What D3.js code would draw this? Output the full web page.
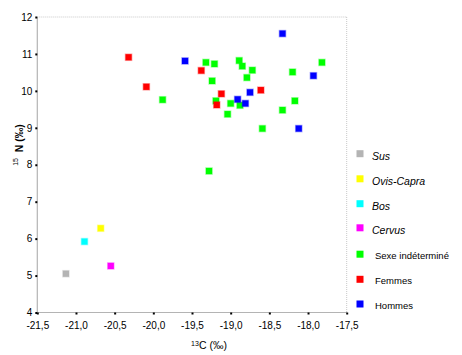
<!DOCTYPE html>
<html>
<head>
<meta charset="utf-8">
<script src="https://cdn.jsdelivr.net/npm/d3@7"></script>
<style>
  body { margin: 0; background: #fff; }
  svg { display: block; font-family: "Liberation Sans", Arial, sans-serif; }
</style>
</head>
<body>
<svg id="chart" width="462" height="355"></svg>
<script>
// ---- Data (δ13C, δ15N) ----
const categories = ["Sus", "Ovis-Capra", "Bos", "Cervus", "Sexe indéterminé", "Femmes", "Hommes"];
const italicCats = [true, true, true, true, false, false, false];
const colors = ["#b4b4b4", "#ffff00", "#00ffff", "#ff00ff", "#00ff00", "#ff0000", "#0000ff"];

const susC = [-21.13], susN = [5.05];
const ovisC = [-20.68], ovisN = [6.28];
const bosC = [-20.89], bosN = [5.92];
const cervusC = [-20.55], cervusN = [5.26];
const indetC = [-19.88, -19.32, -19.21, -19.24, -18.89, -18.85, -18.72, -18.79, -18.20, -17.82, -18.17, -18.33, -18.59, -19.19, -19.00, -18.88, -19.04, -19.28];
const indetN = [9.76, 10.77, 10.73, 10.27, 10.82, 10.67, 10.56, 10.36, 10.51, 10.77, 9.73, 9.48, 8.98, 9.73, 9.66, 9.61, 9.37, 7.83];
const femmesC = [-19.38, -19.12, -19.18, -18.61, -20.32, -20.09];
const femmesN = [10.55, 9.92, 9.62, 10.02, 10.91, 10.11];
const hommesC = [-19.59, -18.33, -17.93, -18.75, -18.91, -18.81, -18.12];
const hommesN = [10.81, 11.55, 10.41, 9.96, 9.77, 9.66, 8.98];

const xTicks = [-21.5, -21.0, -20.5, -20.0, -19.5, -19.0, -18.5, -18.0, -17.5];
const yTicks = [4, 5, 6, 7, 8, 9, 10, 11, 12];

const seriesC = [susC, ovisC, bosC, cervusC, indetC, femmesC, hommesC];
const seriesN = [susN, ovisN, bosN, cervusN, indetN, femmesN, hommesN];

// ---- Layout ----
const svg = d3.select("#chart");
const L = 37.3, R = 346.7, T = 17, B = 312.5;
const x = d3.scaleLinear().domain([-21.5, -17.5]).range([L, R]);
const y = d3.scaleLinear().domain([4, 12]).range([B, T]);

// frame: top & right dotted
svg.append("line").attr("x1", L).attr("x2", R).attr("y1", T).attr("y2", T)
  .attr("stroke", "#c8c8c8").attr("stroke-dasharray", "1,1");
svg.append("line").attr("x1", R).attr("x2", R).attr("y1", T).attr("y2", B)
  .attr("stroke", "#c8c8c8").attr("stroke-dasharray", "1,1");
// axis lines
svg.append("line").attr("x1", L).attr("x2", L).attr("y1", T).attr("y2", B)
  .attr("stroke", "#b4b4b4").attr("stroke-width", 1.2);
svg.append("line").attr("x1", L).attr("x2", R).attr("y1", B).attr("y2", B)
  .attr("stroke", "#b4b4b4").attr("stroke-width", 1.2);

const fmt = d => d3.format(".1f")(d).replace(".", ",").replace("−", "-");

const xAxis = svg.append("g").attr("transform", `translate(0,${B})`)
  .call(d3.axisBottom(x).tickValues(xTicks).tickFormat(fmt).tickSize(2).tickPadding(7));
const yAxis = svg.append("g").attr("transform", `translate(${L},0)`)
  .call(d3.axisLeft(y).tickValues(yTicks).tickFormat(d3.format("d")).tickSize(2).tickPadding(3));
[xAxis, yAxis].forEach(g => {
  g.select(".domain").remove();
  g.selectAll(".tick line").attr("stroke", "#000").attr("stroke-width", 2);
  g.selectAll(".tick text").attr("fill", "#000").style("font-size", "10px")
    .style("font-family", "'Liberation Sans', Arial, sans-serif");
});

// axis titles
const xt = svg.append("text").attr("x", 209).attr("y", 349).attr("text-anchor", "middle")
  .style("font-size", "10.5px").attr("fill", "#000");
xt.append("tspan").text("13").style("font-size", "7px").attr("dy", "-3");
xt.append("tspan").text("C (‰)").attr("dy", "3");

const yt = svg.append("text").attr("transform", "translate(23,145) rotate(-90)")
  .attr("text-anchor", "middle").style("font-size", "10.5px").attr("fill", "#000");
yt.append("tspan").text("15").style("font-size", "7px").attr("dy", "-5");
yt.append("tspan").text("\u00a0\u00a0N (‰)").attr("dy", "5").style("font-weight", "bold");

// points
const sz = 6.2;
const plot = svg.append("g");
seriesC.forEach((cs, i) => {
  const pts = cs.map((c, j) => ({ c, n: seriesN[i][j] }));
  plot.append("g").selectAll("rect").data(pts).join("rect")
    .attr("x", d => x(d.c) - sz / 2).attr("y", d => y(d.n) - sz / 2)
    .attr("width", sz).attr("height", sz)
    .attr("fill", colors[i])
    .attr("stroke", colors[i]).attr("stroke-opacity", 0.35).attr("stroke-width", 1.4);
});

// legend
const legY = [153.7, 178.8, 203.7, 227.8, 254.2, 279.3, 304];
const leg = svg.append("g");
categories.forEach((cat, i) => {
  leg.append("rect").attr("x", 356.5).attr("y", legY[i] - 3.5).attr("width", 7).attr("height", 7)
    .attr("fill", colors[i]);
  leg.append("text").attr("x", italicCats[i] ? 372 : 375)
    .attr("y", legY[i] + (italicCats[i] ? 6.5 : 4.5))
    .style("font-size", italicCats[i] ? "10.5px" : "9.5px")
    .style("font-style", italicCats[i] ? "italic" : "normal")
    .attr("fill", "#000").text(cat);
});
</script>
</body>
</html>
